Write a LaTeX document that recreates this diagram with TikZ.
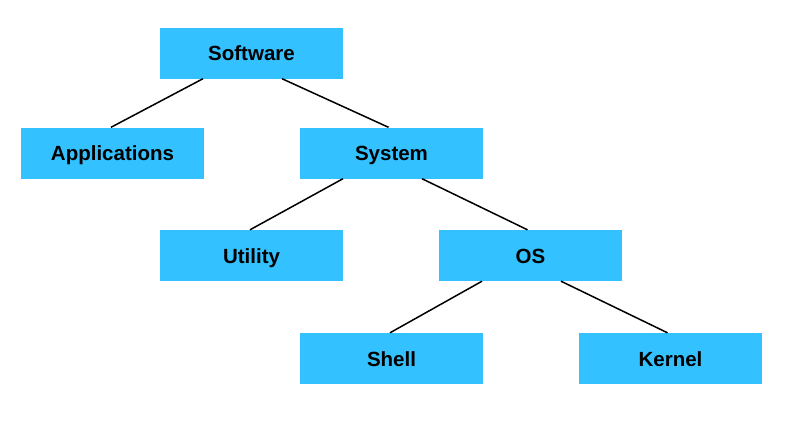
\documentclass[tikz,border=0pt]{standalone}
\usepackage{fontspec}
\newfontfamily\labfont{Liberation Sans}
\definecolor{boxblue}{HTML}{33C1FF}
\begin{document}
\begin{tikzpicture}[x=1pt,y=-1pt,
  box/.style={fill=boxblue,draw=none,minimum width=183pt,minimum height=51pt,inner sep=0pt,
    text height=15pt,text depth=0pt,
    font=\labfont\bfseries\fontsize{20.5}{24}\selectfont,text=black},
  link/.style={draw=black,line width=1.5pt}]
\useasboundingbox (0,0) rectangle (798,437);
\node[box] (sw) at (251.5,53) {Software};
\node[box] (app) at (112.5,153) {Applications};
\node[box] (sys) at (391.5,153) {System};
\node[box] (ut) at (251.5,255.5) {Utility};
\node[box] (os) at (530.5,255.5) {OS};
\node[box] (sh) at (391.5,358.5) {Shell};
\node[box] (ke) at (670.5,358.5) {Kernel};
\draw[link] ([xshift=-48.5pt]sw.south) -- ([xshift=-1.5pt]app.north);
\draw[link] ([xshift=30.5pt]sw.south) -- ([xshift=-3pt]sys.north);
\draw[link] ([xshift=-48.5pt]sys.south) -- ([xshift=-1.5pt]ut.north);
\draw[link] ([xshift=30.5pt]sys.south) -- ([xshift=-3pt]os.north);
\draw[link] ([xshift=-48.5pt]os.south) -- ([xshift=-1.5pt]sh.north);
\draw[link] ([xshift=30.5pt]os.south) -- ([xshift=-3pt]ke.north);
\end{tikzpicture}
\end{document}
